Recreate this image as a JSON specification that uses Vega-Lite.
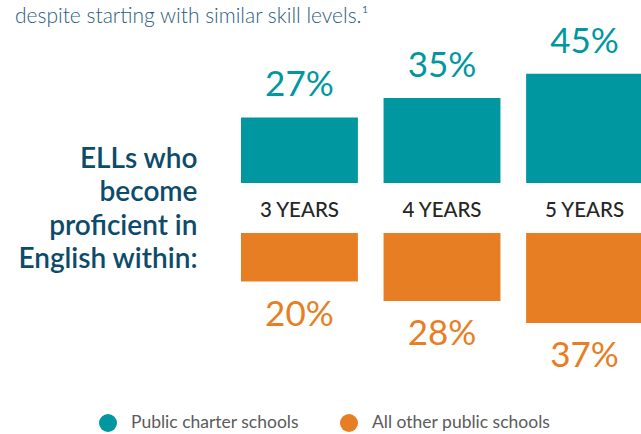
{
  "$schema": "https://vega.github.io/schema/vega-lite/v6.json",
  "autosize": {"type": "none"},
  "padding": {"left": 241, "top": 40, "right": 0, "bottom": 54},
  "width": 402,
  "height": 340,
  "title": {
    "text": "despite starting with similar skill levels.¹",
    "anchor": "start",
    "frame": "group",
    "dx": -226,
    "offset": -19,
    "baseline": "alphabetic",
    "fontSize": 21,
    "font": "Lato",
    "fontWeight": 300,
    "color": "#2a5d7d"
  },
  "data": {
    "values": [
      {"years": "3 YEARS", "school": "Public charter schools", "pct": 0.27},
      {"years": "4 YEARS", "school": "Public charter schools", "pct": 0.35},
      {"years": "5 YEARS", "school": "Public charter schools", "pct": 0.45},
      {"years": "3 YEARS", "school": "All other public schools", "pct": 0.20},
      {"years": "4 YEARS", "school": "All other public schools", "pct": 0.28},
      {"years": "5 YEARS", "school": "All other public schools", "pct": 0.37}
    ]
  },
  "layer": [
    {
      "transform": [{"filter": "datum.school === 'Public charter schools'"}],
      "encoding": {
        "x": {"field": "years", "type": "nominal", "scale": {"paddingInner": 0.18, "paddingOuter": 0}, "axis": null},
        "y": {
          "field": "pct",
          "type": "quantitative",
          "scale": {"domain": [0, 0.5885], "range": [143, 0]},
          "axis": {
            "title": ["ELLs who", "become", "proficient in", "English within:"],
            "titleAngle": 0,
            "titleAlign": "right",
            "titleBaseline": "alphabetic",
            "titleX": -44,
            "titleY": 127,
            "titleFontSize": 28,
            "titleFont": "Lato",
            "titleFontWeight": 600,
            "titleColor": "#0d4b6a",
            "titleLineHeight": 33.5,
            "domain": false,
            "ticks": false,
            "labels": false,
            "grid": false
          }
        }
      },
      "layer": [
        {
          "mark": {"type": "bar"},
          "encoding": {
            "y2": {"datum": 0},
            "color": {
              "field": "school",
              "type": "nominal",
              "scale": {"domain": ["Public charter schools", "All other public schools"], "range": ["#0097a0", "#e87e23"]},
              "legend": {
                "title": null,
                "orient": "none",
                "direction": "horizontal",
                "legendX": -142,
                "legendY": 374,
                "symbolType": "circle",
                "symbolSize": 324,
                "symbolStrokeWidth": 0,
                "symbolOpacity": 1,
                "labelFontSize": 17.5,
                "labelFont": "Lato",
                "labelColor": "#5b5b5b",
                "labelOffset": 14,
                "labelLimit": 400,
                "columnPadding": 41,
                "padding": 0
              }
            }
          }
        },
        {
          "mark": {"type": "text", "dy": -21, "baseline": "alphabetic", "fontSize": 35, "font": "Lato", "color": "#0097a0"},
          "encoding": {"text": {"field": "pct", "type": "quantitative", "format": ".0%"}}
        },
        {
          "mark": {"type": "text", "dy": 34, "baseline": "alphabetic", "fontSize": 20.5, "font": "Lato", "fontWeight": 500, "color": "#262626"},
          "encoding": {"y": {"datum": 0}, "text": {"field": "years", "type": "nominal"}}
        }
      ]
    },
    {
      "transform": [{"filter": "datum.school === 'All other public schools'"}],
      "encoding": {
        "x": {"field": "years", "type": "nominal", "scale": {"paddingInner": 0.18, "paddingOuter": 0}, "axis": null},
        "y": {"field": "pct", "type": "quantitative", "scale": {"domain": [0, 0.605], "range": [193, 340]}, "axis": null}
      },
      "layer": [
        {
          "mark": {"type": "bar"},
          "encoding": {
            "y2": {"datum": 0},
            "color": {"field": "school", "type": "nominal"}
          }
        },
        {
          "mark": {"type": "text", "dy": 44, "baseline": "alphabetic", "fontSize": 35, "font": "Lato", "color": "#e87e23"},
          "encoding": {"text": {"field": "pct", "type": "quantitative", "format": ".0%"}}
        }
      ]
    }
  ],
  "resolve": {"scale": {"y": "independent"}},
  "config": {"view": {"stroke": null}}
}
